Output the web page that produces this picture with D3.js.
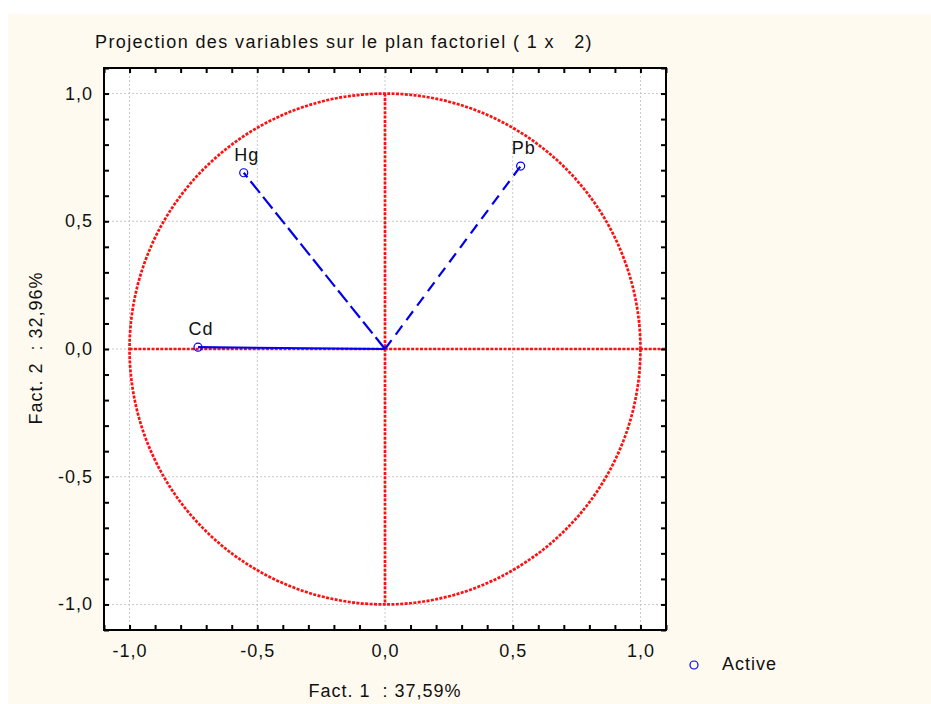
<!DOCTYPE html>
<html>
<head>
<meta charset="utf-8">
<script src="https://cdn.jsdelivr.net/npm/d3@7"></script>
<style>
  html, body { margin: 0; padding: 0; background: #ffffff; }
  svg { display: block; }
  text { font-family: "Liberation Sans", Arial, sans-serif; fill: #111; white-space: pre; }
</style>
</head>
<body>
<svg id="chart" width="931" height="704"></svg>
<script>
// Variable coordinates on factors 1 and 2
const variables = ["Cd", "Hg", "Pb"];
const fact1 = [-0.732, -0.553, 0.531];
const fact2 = [0.007, 0.690, 0.716];
const lineDash = ["none", "15,5", "11,7"];

const majorTicks = [-1.0, -0.5, 0.0, 0.5, 1.0];
const minorTicks = d3.range(-11, 12).map(i => i / 10);

const titleText = "Projection des variables sur le plan factoriel ( 1 x   2)";
const xTitle = "Fact. 1  : 37,59%";
const yTitle = "Fact. 2  : 32,96%";
const legendLabel = "Active";

const fmt = v => d3.format(".1f")(v).replace(".", ",").replace("−", "-");

const svg = d3.select("#chart");
const W = 931, H = 704;
const FS = 18, LS = 1;

// page background
svg.append("rect").attr("x", 8).attr("y", 14).attr("width", W - 8).attr("height", H - 14)
  .attr("fill", "#fefaef");

const plot = { left: 104, top: 68, right: 666, bottom: 630 };
const x = d3.scaleLinear().domain([-1.1, 1.1]).range([plot.left, plot.right]);
const y = d3.scaleLinear().domain([-1.1, 1.1]).range([plot.bottom, plot.top]);

svg.append("rect").attr("x", plot.left).attr("y", plot.top)
  .attr("width", plot.right - plot.left).attr("height", plot.bottom - plot.top)
  .attr("fill", "#ffffff");

// grid
const grid = svg.append("g").attr("stroke", "#c8c8c8").attr("stroke-width", 1)
  .attr("stroke-dasharray", "2,2");
majorTicks.forEach(t => {
  grid.append("line").attr("x1", x(t)).attr("x2", x(t)).attr("y1", plot.top).attr("y2", plot.bottom);
  grid.append("line").attr("y1", y(t)).attr("y2", y(t)).attr("x1", plot.left).attr("x2", plot.right);
});

// unit circle and axes of the correlation circle
const red = "#ff1010";
const circleG = svg.append("g").attr("fill", "none").attr("stroke", red)
  .attr("stroke-width", 2.7).attr("stroke-dasharray", "3,1.4");
circleG.append("ellipse")
  .attr("cx", x(0)).attr("cy", y(0))
  .attr("rx", x(1) - x(0)).attr("ry", y(0) - y(1));
circleG.append("line").attr("x1", x(-1)).attr("x2", x(1.1)).attr("y1", y(0)).attr("y2", y(0));
circleG.append("line").attr("x1", x(0)).attr("x2", x(0)).attr("y1", y(1)).attr("y2", y(-1));

// vectors
const blue = "#0000ee";
variables.forEach((v, i) => {
  svg.append("line")
    .attr("x1", x(0)).attr("y1", y(0))
    .attr("x2", x(fact1[i])).attr("y2", y(fact2[i]))
    .attr("stroke", blue).attr("stroke-width", 2.2)
    .attr("stroke-dasharray", lineDash[i]);
  svg.append("circle")
    .attr("cx", x(fact1[i])).attr("cy", y(fact2[i])).attr("r", 4)
    .attr("fill", "none").attr("stroke", blue).attr("stroke-width", 1.2);
  svg.append("text")
    .attr("x", x(fact1[i]) + 3).attr("y", y(fact2[i]) - 12)
    .attr("text-anchor", "middle").attr("font-size", FS).attr("letter-spacing", LS)
    .text(v);
});

// frame with inward ticks
const axisG = svg.append("g");
axisG.append("rect").attr("x", plot.left).attr("y", plot.top)
  .attr("width", plot.right - plot.left).attr("height", plot.bottom - plot.top)
  .attr("fill", "none").attr("stroke", "#000").attr("stroke-width", 2);

const bottomAxis = d3.axisBottom(x).tickValues(minorTicks).tickSize(-5).tickFormat("");
const topAxis = d3.axisTop(x).tickValues(minorTicks).tickSize(-5).tickFormat("");
const leftAxis = d3.axisLeft(y).tickValues(minorTicks).tickSize(-5).tickFormat("");
const rightAxis = d3.axisRight(y).tickValues(minorTicks).tickSize(-5).tickFormat("");
[[bottomAxis, `translate(0,${plot.bottom})`], [topAxis, `translate(0,${plot.top})`],
 [leftAxis, `translate(${plot.left},0)`], [rightAxis, `translate(${plot.right},0)`]]
  .forEach(([ax, tr]) => {
    const g = axisG.append("g").attr("transform", tr).call(ax);
    g.select(".domain").remove();
    g.selectAll(".tick line").attr("stroke", "#000").attr("stroke-width", 2);
  });

// tick labels
majorTicks.forEach(t => {
  svg.append("text").attr("x", x(t) + LS / 2).attr("y", 657)
    .attr("text-anchor", "middle").attr("font-size", FS).attr("letter-spacing", LS)
    .text(fmt(t));
  svg.append("text").attr("x", 92 + LS).attr("y", y(t) + 6)
    .attr("text-anchor", "end").attr("font-size", FS).attr("letter-spacing", LS)
    .text(fmt(t));
});

// titles
svg.append("text").attr("x", 95).attr("y", 48).attr("font-size", FS)
  .attr("letter-spacing", 1.4).text(titleText);
svg.append("text").attr("x", 385).attr("y", 697).attr("text-anchor", "middle")
  .attr("font-size", FS).attr("letter-spacing", LS).text(xTitle);
svg.append("text").attr("transform", `translate(42,348) rotate(-90)`)
  .attr("text-anchor", "middle").attr("font-size", FS).attr("letter-spacing", LS)
  .text(yTitle);

// legend
svg.append("circle").attr("cx", 694).attr("cy", 665).attr("r", 4)
  .attr("fill", "none").attr("stroke", blue).attr("stroke-width", 1.2);
svg.append("text").attr("x", 722).attr("y", 670).attr("font-size", FS)
  .attr("letter-spacing", LS).text(legendLabel);
</script>
</body>
</html>
